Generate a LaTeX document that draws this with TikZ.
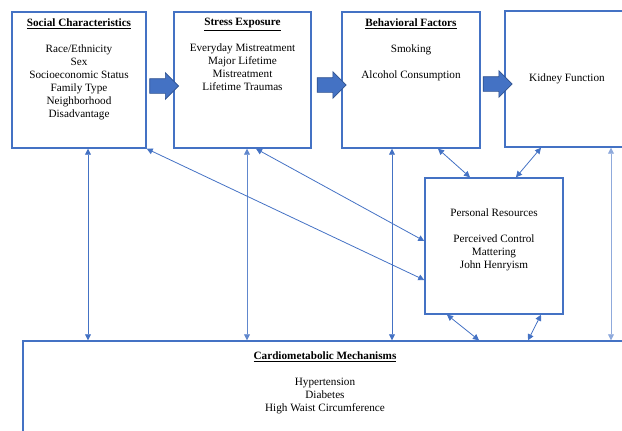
\documentclass[tikz,border=0pt]{standalone}
\usepackage{fontspec}
\setmainfont{Liberation Serif}
\usetikzlibrary{arrows.meta, shapes.arrows}

\definecolor{wordblue}{HTML}{4472C4}
\definecolor{darkblue}{HTML}{2F528F}
\definecolor{paleblue}{HTML}{8FAADC}

\newcommand{\boxtitle}[1]{\textbf{\underline{#1}}}

\tikzset{
  conceptbox/.style={draw=wordblue, line width=1.1pt, fill=white, inner sep=0pt},
  boxtext/.style={align=center, inner sep=0pt, font=\fontsize{8.4}{9.75}\selectfont},
  bigarrow/.style={single arrow, fill=wordblue, draw=darkblue, line width=0.5pt,
    inner sep=0pt, text height=7*0.75pt, text depth=7*0.75pt,
    minimum height=29*0.75pt,
    single arrow head extend=6*0.75pt, single arrow head indent=0pt},
  link/.style={draw=wordblue, line width=0.6pt,
    {Triangle[length=4.5pt,width=4.5pt]}-{Triangle[length=4.5pt,width=4.5pt]}}
}

\begin{document}
\begin{tikzpicture}[x=0.75pt, y=-0.75pt]
  \def\px{0.75pt}
  \useasboundingbox (0,0) rectangle (622,430);
  \clip (0,0) rectangle (622,430);

  % boxes
  \node[conceptbox, minimum width=134*\px, minimum height=136*\px] (social) at (79,80) {};
  \node[conceptbox, minimum width=137*\px, minimum height=136*\px] (stress) at (242.5,80) {};
  \node[conceptbox, minimum width=138*\px, minimum height=136*\px] (behav) at (411,80) {};
  \node[conceptbox, minimum width=124*\px, minimum height=136*\px] (kidney) at (567,79) {};
  \node[conceptbox, minimum width=138*\px, minimum height=136*\px] (personal) at (494,246) {};
  \node[conceptbox, minimum width=604*\px, minimum height=110*\px] (cardio) at (325,396) {};

  % texts
  \node[boxtext, anchor=north] (socialtext) at ([yshift=-7*\px]social.north)
    {\boxtitle{Social Characteristics}\\[9.75pt]
     Race/Ethnicity\\ Sex\\ Socioeconomic Status\\ Family Type\\ Neighborhood\\ Disadvantage};
  \node[boxtext, anchor=north] (stresstext) at ([yshift=-7*\px]stress.north)
    {\boxtitle{Stress Exposure}\\[9.75pt]
     Everyday Mistreatment\\ Major Lifetime\\ Mistreatment\\ Lifetime Traumas};
  \node[boxtext, anchor=north] (behavtext) at ([yshift=-7*\px]behav.north)
    {\boxtitle{Behavioral Factors}\\[9.75pt]
     Smoking\\[9.75pt] Alcohol Consumption};
  \node[boxtext] (kidneytext) at (kidney.center) {Kidney Function};
  \node[boxtext, anchor=north] (personaltext) at ([yshift=-31*\px]personal.north)
    {Personal Resources\\[9.75pt]
     Perceived Control\\ Mattering\\ John Henryism};
  \node[boxtext, anchor=north] (cardiotext) at ([yshift=-11*\px]cardio.north)
    {\boxtitle{Cardiometabolic Mechanisms}\\[9.75pt]
     Hypertension\\ Diabetes\\ High Waist Circumference};

  % block arrows
  \node[bigarrow] (arr1) at (160.5,86) {};
  \node[bigarrow] (arr2) at (328,85) {};
  \node[bigarrow] (arr3) at (494,84) {};

  % links
  \coordinate (s1) at ([xshift=9*\px]social.south);
  \coordinate (s2) at ([xshift=4.5*\px]stress.south);
  \coordinate (s3) at ([xshift=-19*\px]behav.south);
  \coordinate (s4) at ([xshift=44*\px]kidney.south);
  \draw[link] (s1) -- (s1 |- cardio.north);
  \draw[link, draw=wordblue!85] (s2) -- (s2 |- cardio.north);
  \draw[link] (s3) -- (s3 |- cardio.north);
  \draw[link, draw=paleblue] (s4) -- (s4 |- cardio.north);

  \draw[link] (social.south east) -- ([yshift=-34*\px]personal.west);
  \draw[link] ([xshift=13.5*\px]stress.south) -- ([yshift=5*\px]personal.west);
  \draw[link] ([xshift=27*\px]behav.south) -- ([xshift=-24*\px]personal.north);
  \draw[link] ([xshift=-26*\px]kidney.south) -- ([xshift=22*\px]personal.north);
  \draw[link] ([xshift=-47*\px]personal.south) -- ([xshift=154*\px]cardio.north);
  \draw[link] ([xshift=47*\px]personal.south) -- ([xshift=203*\px]cardio.north);
\end{tikzpicture}
\end{document}
